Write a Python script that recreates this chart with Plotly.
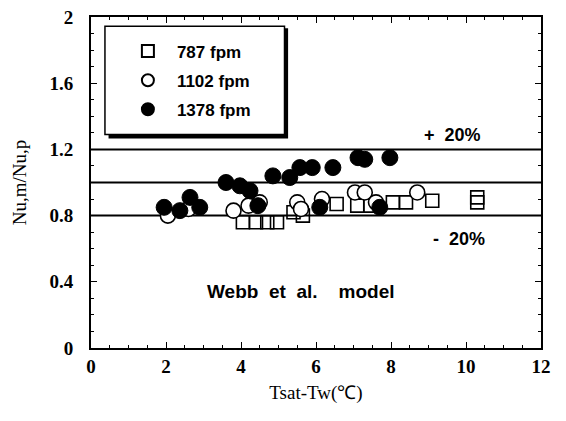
import plotly.graph_objects as go

# Data
x_787 = [4.05, 4.4, 4.7, 4.96, 5.4, 5.65, 6.55, 7.1, 7.45, 8.05, 8.4, 9.1, 10.3, 10.3]
y_787 = [0.76, 0.76, 0.76, 0.76, 0.82, 0.80, 0.87, 0.86, 0.86, 0.88, 0.88, 0.89, 0.91, 0.88]

x_1102 = [2.05, 2.6, 3.8, 4.2, 4.5, 5.5, 5.6, 6.16, 7.04, 7.3, 7.6, 8.7]
y_1102 = [0.80, 0.84, 0.83, 0.86, 0.88, 0.88, 0.84, 0.90, 0.94, 0.94, 0.88, 0.94]

x_1378 = [1.95, 2.37, 2.64, 2.9, 3.6, 3.97, 4.24, 4.45, 4.85, 5.3, 5.57, 5.9, 6.1, 6.45,
          7.12, 7.3, 7.7, 7.97]
y_1378 = [0.85, 0.83, 0.91, 0.85, 1.00, 0.98, 0.95, 0.86, 1.04, 1.03, 1.09, 1.09, 0.85, 1.09,
          1.15, 1.14, 0.85, 1.15]

ref_lines = [0.8, 1.0, 1.2]
series_names = ["787 fpm", "1102 fpm", "1378 fpm"]

x_ticks = [0, 2, 4, 6, 8, 10, 12]
y_ticks = [0, 0.4, 0.8, 1.2, 1.6, 2]
y_tick_labels = ["0", "0.4", "0.8", "1.2", "1.6", "2"]

fig = go.Figure()
fig.add_trace(go.Scatter(x=x_787, y=y_787, mode="markers", name=series_names[0],
                         legendgroup="a",
                         marker=dict(symbol="square-open", size=13, color="black",
                                     line=dict(width=1.6, color="black"))))
fig.add_trace(go.Scatter(x=x_1102, y=y_1102, mode="markers", name=series_names[1],
                         legendgroup="b",
                         marker=dict(symbol="circle", size=15, color="white",
                                     line=dict(width=1.6, color="black"))))
fig.add_trace(go.Scatter(x=x_1378, y=y_1378, mode="markers", name=series_names[2],
                         legendgroup="c",
                         marker=dict(symbol="circle", size=16, color="black",
                                     line=dict(width=1, color="black"))))

for v in ref_lines:
    fig.add_shape(type="line", xref="paper", x0=0, x1=1, yref="y", y0=v, y1=v,
                  line=dict(color="black", width=2), layer="below")

# Legend box with shadow
fig.add_shape(type="rect", xref="paper", yref="paper", x0=0.039, x1=0.438, y0=0.633, y1=0.966,
              fillcolor="black", line=dict(width=0), layer="above")
fig.add_shape(type="rect", xref="paper", yref="paper", x0=0.031, x1=0.430, y0=0.645, y1=0.972,
              fillcolor="white", line=dict(color="black", width=1.5), layer="above")

ann_font = dict(family="Liberation Sans", size=18, color="black", weight="bold")
fig.add_annotation(x=9.65, y=1.29, text="+  20%", showarrow=False, font=ann_font)
fig.add_annotation(x=9.8, y=0.66, text="-  20%", showarrow=False, font=ann_font)
fig.add_annotation(x=5.6, y=0.34, text="Webb  et  al.    model", showarrow=False,
                   font=dict(family="Liberation Sans", size=19, color="black", weight="bold"))

tick_font = dict(family="Liberation Serif", size=19, color="black", weight="bold")
fig.update_layout(
    width=566, height=421,
    margin=dict(l=91, r=25, t=17, b=73),
    paper_bgcolor="white", plot_bgcolor="white",
    showlegend=True,
    legend=dict(x=0.062, y=0.95, xanchor="left", yanchor="top",
                bgcolor="rgba(0,0,0,0)", borderwidth=0,
                font=dict(family="Liberation Sans", size=17, color="black", weight="bold"),
                tracegroupgap=4, itemsizing="constant", itemwidth=48),
    xaxis=dict(range=[0, 12], tickvals=x_ticks, ticktext=[str(t) for t in x_ticks],
               ticks="inside", ticklen=6, tickwidth=1, tickcolor="black",
               minor=dict(dtick=0.5, ticks="inside", ticklen=3, tickcolor="black"),
               showgrid=False, zeroline=False, showline=True, linecolor="black", linewidth=2,
               mirror="allticks", tickfont=tick_font, automargin=False,
               title=dict(text="Tsat-Tw(℃)", font=dict(family="Liberation Serif", size=19, color="black"),
                          standoff=10)),
    yaxis=dict(range=[0, 2], tickvals=y_ticks, ticktext=y_tick_labels,
               ticks="inside", ticklen=6, tickwidth=1, tickcolor="black",
               minor=dict(dtick=0.1, ticks="inside", ticklen=3, tickcolor="black"),
               showgrid=False, zeroline=False, showline=True, linecolor="black", linewidth=2,
               mirror="allticks", tickfont=tick_font, automargin=False, ticklabelstandoff=12,
               title=dict(text="Nu,m/Nu,p", font=dict(family="Liberation Serif", size=19, color="black"),
                          standoff=18)),
)

fig.write_html("out.html", config={"displayModeBar": False},
               post_script="document.body.style.margin='0';")
